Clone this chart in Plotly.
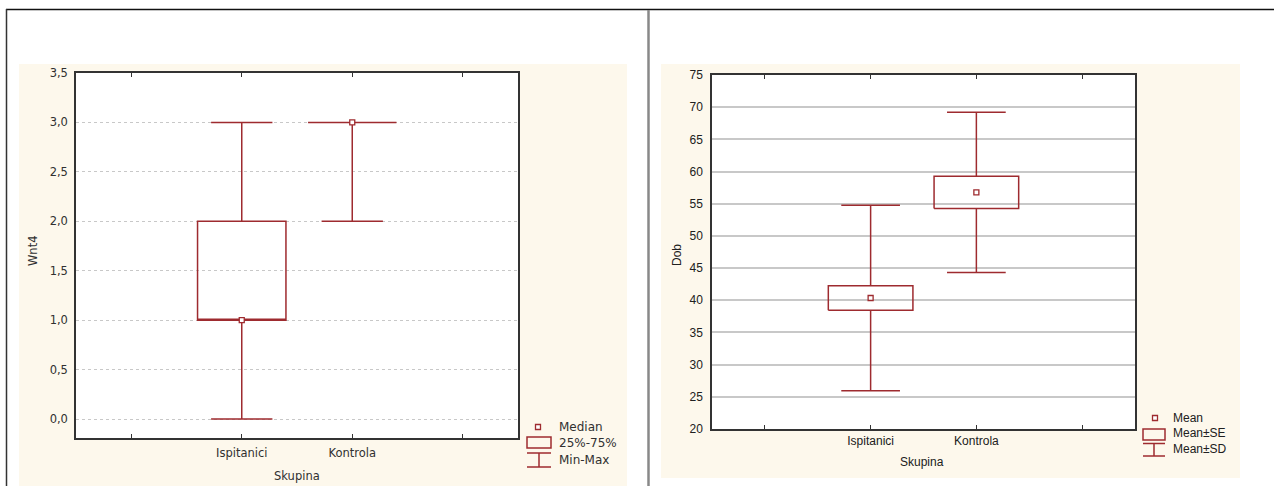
import plotly.graph_objects as go

W, H = 1275, 486

# ---------------- data ----------------
groups = ["Ispitanici", "Kontrola"]
group_pos = [1, 2]
x_tick_vals = [0, 1, 2, 3]
x_tick_text = ["", "Ispitanici", "Kontrola", ""]

# Left panel: Wnt4 (Median, 25%-75%, Min-Max)
wnt4_min = [0.0, 2.0]
wnt4_q1 = [1.0, 3.0]
wnt4_median = [1.0, 3.0]
wnt4_q3 = [2.0, 3.0]
wnt4_max = [3.0, 3.0]
wnt4_tick_vals = [0.0, 0.5, 1.0, 1.5, 2.0, 2.5, 3.0, 3.5]
wnt4_tick_text = ["0,0", "0,5", "1,0", "1,5", "2,0", "2,5", "3,0", "3,5"]

# Right panel: Dob (Mean, Mean±SE, Mean±SD)
dob_mean = [40.35, 56.75]
dob_se = [1.9, 2.5]
dob_sd = [14.4, 12.45]
dob_tick_vals = [20, 25, 30, 35, 40, 45, 50, 55, 60, 65, 70, 75]

legend_left = ["Median", "25%-75%", "Min-Max"]
legend_right = ["Mean", "Mean±SE", "Mean±SD"]

# ---------------- style ----------------
RED = "#9E2B2F"
CREAM = "#FDF8EC"
AXIS = "#333333"
LFONT = dict(family="DejaVu Sans", size=11.5, color="#303030")
RFONT = dict(family="Arial", size=12, color="#202020")
BOX_HALF = 0.4
CAP_HALF = 0.2775


def px(x):
    return x / W


def py(y):
    return 1 - y / H


fig = go.Figure()

# Left: box plot with precomputed statistics
fig.add_trace(go.Box(
    x=group_pos, q1=wnt4_q1, median=wnt4_median, q3=wnt4_q3,
    lowerfence=wnt4_min, upperfence=wnt4_max,
    width=2 * BOX_HALF, whiskerwidth=CAP_HALF / BOX_HALF,
    line=dict(color=RED, width=1.5), fillcolor="rgba(0,0,0,0)",
    boxpoints=False, showlegend=False, hoverinfo="skip",
    xaxis="x", yaxis="y"))
fig.add_trace(go.Scatter(
    x=group_pos, y=wnt4_median, mode="markers",
    marker=dict(symbol="square", size=5, color="white",
                line=dict(color=RED, width=1.3)),
    showlegend=False, hoverinfo="skip", xaxis="x", yaxis="y"))

# Right: Mean±SE boxes and Mean±SD whiskers
bx, by, wx, wy = [], [], [], []
for c, m, se, sd in zip(group_pos, dob_mean, dob_se, dob_sd):
    lo, hi = m - se, m + se
    bx += [c - BOX_HALF, c + BOX_HALF, c + BOX_HALF, c - BOX_HALF, c - BOX_HALF, None]
    by += [lo, lo, hi, hi, lo, None]
    wx += [c, c, None, c, c, None,
           c - CAP_HALF, c + CAP_HALF, None, c - CAP_HALF, c + CAP_HALF, None]
    wy += [hi, m + sd, None, lo, m - sd, None,
           m + sd, m + sd, None, m - sd, m - sd, None]
fig.add_trace(go.Scatter(x=bx, y=by, mode="lines", line=dict(color=RED, width=1.5),
                         showlegend=False, hoverinfo="skip", xaxis="x2", yaxis="y2"))
fig.add_trace(go.Scatter(x=wx, y=wy, mode="lines", line=dict(color=RED, width=1.5),
                         showlegend=False, hoverinfo="skip", xaxis="x2", yaxis="y2"))
fig.add_trace(go.Scatter(
    x=group_pos, y=dob_mean, mode="markers",
    marker=dict(symbol="square", size=5, color="white",
                line=dict(color=RED, width=1.3)),
    showlegend=False, hoverinfo="skip", xaxis="x2", yaxis="y2"))

shapes = []
# cream panels
shapes.append(dict(type="rect", xref="paper", yref="paper", layer="below",
                   x0=px(19), x1=px(627), y0=py(486), y1=py(64),
                   fillcolor=CREAM, line=dict(width=0)))
shapes.append(dict(type="rect", xref="paper", yref="paper", layer="below",
                   x0=px(661), x1=px(1240), y0=py(478), y1=py(64),
                   fillcolor=CREAM, line=dict(width=0)))
# white plot areas
for xa, ya in (("x", "y"), ("x2", "y2")):
    shapes.append(dict(type="rect", xref=xa + " domain", yref=ya + " domain", layer="below",
                       x0=0, x1=1, y0=0, y1=1, fillcolor="white", line=dict(width=0)))
# page borders
shapes.append(dict(type="line", xref="paper", yref="paper", x0=px(6), x1=px(1274),
                   y0=py(9.5), y1=py(9.5), line=dict(color="#111111", width=1.5)))
shapes.append(dict(type="line", xref="paper", yref="paper", x0=px(6.5), x1=px(6.5),
                   y0=py(9), y1=py(486), line=dict(color="#333333", width=1.5)))
shapes.append(dict(type="line", xref="paper", yref="paper", x0=px(648.5), x1=px(648.5),
                   y0=py(10), y1=py(486), line=dict(color="#888888", width=2.5)))


def legend_icons(mx, my, bx0, bx1, by0, by1, wtop, wbot):
    out = []
    out.append(dict(type="rect", xref="paper", yref="paper",
                    x0=px(mx - 2.5), x1=px(mx + 2.5), y0=py(my + 2.5), y1=py(my - 2.5),
                    fillcolor="white", line=dict(color=RED, width=1.3)))
    out.append(dict(type="rect", xref="paper", yref="paper",
                    x0=px(bx0), x1=px(bx1), y0=py(by1), y1=py(by0),
                    fillcolor="rgba(0,0,0,0)", line=dict(color=RED, width=1.5)))
    cx = (bx0 + bx1) / 2
    for (xa, ya, xb, yb) in ((bx0, wtop, bx1, wtop), (cx, wtop, cx, wbot), (bx0, wbot, bx1, wbot)):
        out.append(dict(type="line", xref="paper", yref="paper",
                        x0=px(xa), x1=px(xb), y0=py(ya), y1=py(yb),
                        line=dict(color=RED, width=1.5)))
    return out


shapes += legend_icons(538, 427, 527, 551, 437, 448, 453, 467)
shapes += legend_icons(1155, 418, 1143, 1165, 429, 440, 443.5, 456)

annotations = []


def ann(text, x, y, font, xanchor="center", angle=0):
    annotations.append(dict(text=text, x=px(x), y=py(y), xref="paper", yref="paper",
                            showarrow=False, xanchor=xanchor, yanchor="middle",
                            textangle=angle, font=font))


ann("Wnt4", 33, 251, LFONT, angle=-90)
ann("Skupina", 297, 476, LFONT)
ann("Dob", 677, 255, RFONT, angle=-90)
ann("Skupina", 922, 462, RFONT)
for t, yy in zip(legend_left, [427, 443, 460]):
    ann(t, 557, yy, dict(family="DejaVu Sans", size=12, color="#303030"), xanchor="left")
for t, yy in zip(legend_right, [418, 433, 449]):
    ann(t, 1171, yy, RFONT, xanchor="left")

xcommon = dict(range=[-0.5, 3.5], tickmode="array", tickvals=x_tick_vals,
               showgrid=False, zeroline=False, showline=True, linecolor=AXIS,
               linewidth=1.5, mirror="ticks", ticks="inside", ticklen=4,
               tickcolor=AXIS, tickwidth=1, automargin=False)
fig.update_layout(
    width=W, height=H, autosize=False,
    margin=dict(l=0, r=0, t=0, b=0, pad=0),
    paper_bgcolor="white", plot_bgcolor="rgba(0,0,0,0)",
    showlegend=False,
    xaxis=dict(domain=[px(76), px(518)], anchor="y", ticktext=x_tick_text,
               tickfont=LFONT, ticklabelstandoff=3, **xcommon),
    yaxis=dict(domain=[py(438), py(73)], anchor="x", range=[-0.192, 3.5],
               tickmode="array", tickvals=wnt4_tick_vals, ticktext=wnt4_tick_text,
               tickfont=LFONT, showgrid=True, gridcolor="#C8C8C8", griddash="dot",
               gridwidth=1, zeroline=False, showline=True, linecolor=AXIS,
               linewidth=1.5, mirror=True, ticks="", ticklabelstandoff=4,
               automargin=False),
    xaxis2=dict(domain=[px(712), px(1135)], anchor="y2", ticktext=x_tick_text,
                tickfont=RFONT, ticklabelstandoff=0, **xcommon),
    yaxis2=dict(domain=[py(429), py(75)], anchor="x2", range=[20, 75],
                tickmode="array", tickvals=dob_tick_vals,
                tickfont=RFONT, showgrid=True, gridcolor="#C8C8C8",
                gridwidth=1.5, zeroline=False, showline=True, linecolor=AXIS,
                linewidth=1.5, mirror=True, ticks="", ticklabelstandoff=5,
                automargin=False),
    shapes=shapes, annotations=annotations,
)

PAGE = (
    "document.documentElement.style.margin='0';"
    "document.body.style.margin='0';"
    "document.body.style.padding='0';"
    "document.body.style.overflow='hidden';"
)

fig.write_html("out.html", post_script=PAGE, config={"displayModeBar": False})
